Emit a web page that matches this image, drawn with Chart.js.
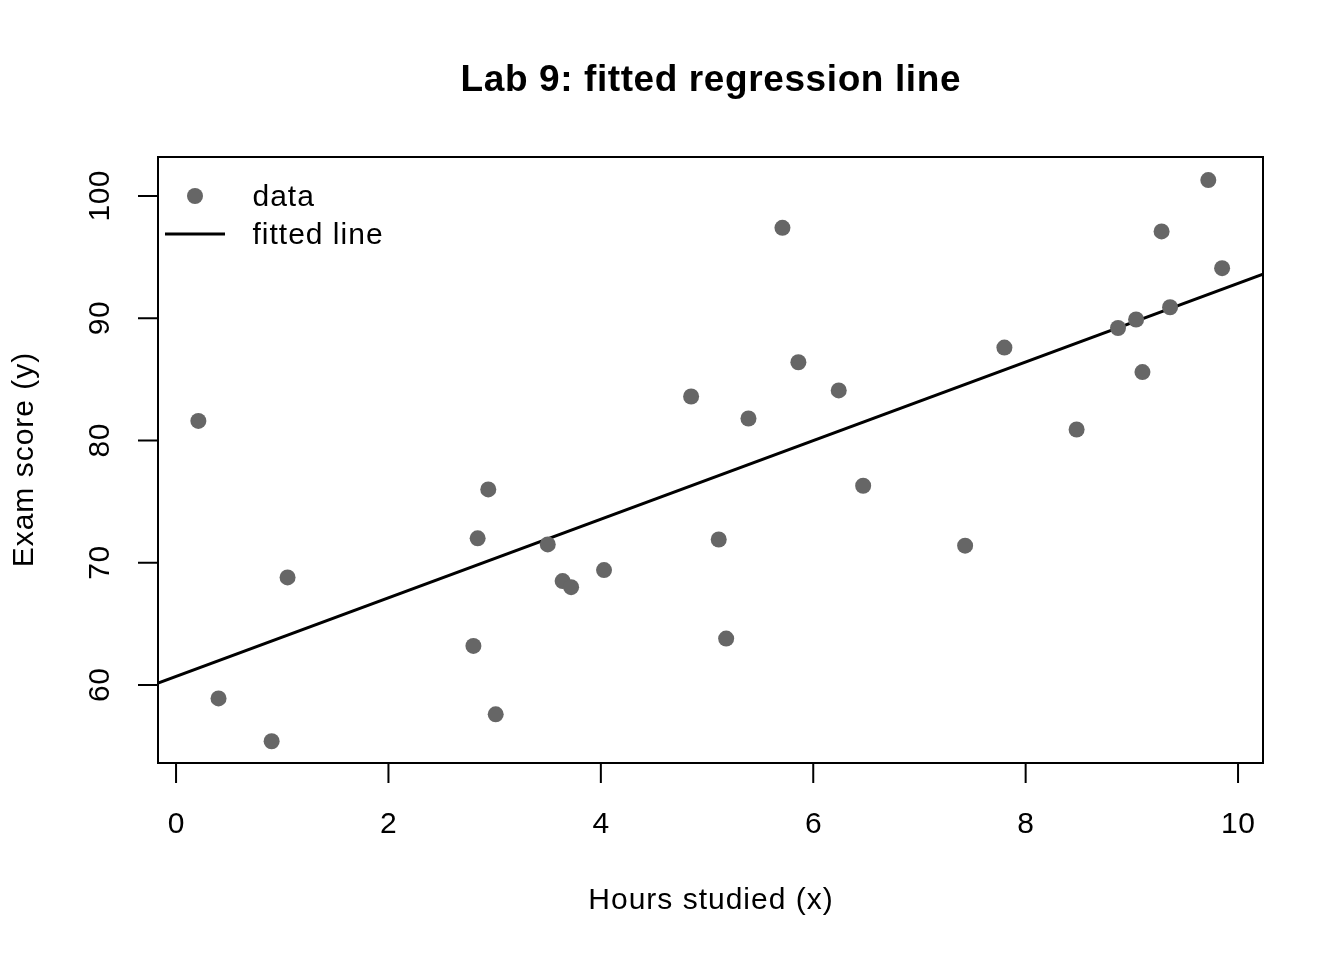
<!DOCTYPE html>
<html>
<head>
<meta charset="utf-8">
<script src="https://cdn.jsdelivr.net/npm/chart.js@4"></script>
<style>
  html, body { margin: 0; padding: 0; background: #fff; }
  #wrap { width: 1344px; height: 960px; }
</style>
</head>
<body>
<div id="wrap"><canvas id="fit"></canvas></div>
<script>
// hours studied and exam scores
var hours = [0.21, 0.40, 0.90, 1.05, 2.80, 2.84, 2.94, 3.01, 3.50, 3.64, 3.72, 4.03,
             4.85, 5.11, 5.18, 5.39, 5.71, 5.86, 6.24, 6.47, 7.43, 7.80, 8.48, 8.87,
             9.04, 9.10, 9.28, 9.36, 9.72, 9.85];
var scores = [81.6, 58.9, 55.4, 68.8, 63.2, 72.0, 76.0, 57.6, 71.5, 68.5, 68.0, 69.4,
              83.6, 71.9, 63.8, 81.8, 97.4, 86.4, 84.1, 76.3, 71.4, 87.6, 80.9, 89.2,
              89.9, 85.6, 97.1, 90.9, 101.3, 94.1];

var intercept = 60.70;
var slope = 3.216;

var xTicks = [0, 2, 4, 6, 8, 10];
var yTicks = [60, 70, 80, 90, 100];

var xMin = -0.17, xMax = 10.235;
var yMin = 53.62, yMax = 103.19;

var pts = hours.map(function(h, i) { return { x: h, y: scores[i] }; });
var fitPts = [
    { x: xMin, y: intercept + slope * xMin },
    { x: xMax, y: intercept + slope * xMax }
];

var font = '"Liberation Sans", Arial, sans-serif';

function label(ctx, txt, x, y, spacing) {
    ctx.letterSpacing = spacing + 'px';
    ctx.fillText(txt, x + spacing / 2, y);
    ctx.letterSpacing = '0px';
}

// R-style box, axes, labels and legend
var rStyle = {
    id: 'rStyle',
    afterDraw: function(chart) {
        var ctx = chart.ctx;
        var a = chart.chartArea;
        var xs = chart.scales.x, ys = chart.scales.y;
        ctx.save();
        ctx.strokeStyle = '#000';
        ctx.lineWidth = 2;
        ctx.strokeRect(a.left, a.top, a.right - a.left, a.bottom - a.top);

        // x axis
        var x0 = xs.getPixelForValue(xTicks[0]);
        var x1 = xs.getPixelForValue(xTicks[xTicks.length - 1]);
        ctx.beginPath();
        ctx.moveTo(x0, a.bottom); ctx.lineTo(x1, a.bottom);
        xTicks.forEach(function(t) {
            var px = xs.getPixelForValue(t);
            ctx.moveTo(px, a.bottom); ctx.lineTo(px, a.bottom + 20);
        });
        // y axis
        var y0 = ys.getPixelForValue(yTicks[0]);
        var y1 = ys.getPixelForValue(yTicks[yTicks.length - 1]);
        ctx.moveTo(a.left, y0); ctx.lineTo(a.left, y1);
        yTicks.forEach(function(t) {
            var py = ys.getPixelForValue(t);
            ctx.moveTo(a.left, py); ctx.lineTo(a.left - 20, py);
        });
        ctx.stroke();

        ctx.fillStyle = '#000';
        ctx.font = '30px ' + font;
        ctx.textAlign = 'center';
        ctx.textBaseline = 'middle';
        xTicks.forEach(function(t) {
            label(ctx, String(t), xs.getPixelForValue(t), 825, 0.5);
        });
        yTicks.forEach(function(t) {
            ctx.save();
            ctx.translate(101, ys.getPixelForValue(t));
            ctx.rotate(-Math.PI / 2);
            label(ctx, String(t), 0, 0, 0.5);
            ctx.restore();
        });

        label(ctx, 'Hours studied (x)', (a.left + a.right) / 2, 901, 1);
        ctx.save();
        ctx.translate(25, (a.top + a.bottom) / 2);
        ctx.rotate(-Math.PI / 2);
        label(ctx, 'Exam score (y)', 0, 0, 1);
        ctx.restore();

        ctx.font = 'bold 37px ' + font;
        label(ctx, 'Lab 9: fitted regression line', (a.left + a.right) / 2, 81, 0.6);

        // legend
        ctx.fillStyle = '#666666';
        ctx.beginPath();
        ctx.arc(195, 196, 8, 0, Math.PI * 2);
        ctx.fill();
        ctx.strokeStyle = '#000';
        ctx.lineWidth = 3;
        ctx.beginPath();
        ctx.moveTo(165, 234); ctx.lineTo(225, 234);
        ctx.stroke();
        ctx.fillStyle = '#000';
        ctx.font = '30px ' + font;
        ctx.textAlign = 'left';
        label(ctx, 'data', 252, 198, 1);
        label(ctx, 'fitted line', 252, 236, 1);
        ctx.restore();
    }
};

var ctx = document.getElementById('fit').getContext('2d');
new Chart(ctx, {
    type: 'scatter',
    data: {
        datasets: [{
            label: 'data',
            data: pts,
            backgroundColor: '#666666',
            borderColor: '#666666',
            pointRadius: 8,
            borderWidth: 0
        },
        {
            label: 'fitted line',
            type: 'line',
            data: fitPts,
            borderColor: '#000',
            borderWidth: 3,
            pointRadius: 0,
            fill: false
        }]
    },
    options: {
        responsive: true,
        maintainAspectRatio: false,
        animation: false,
        layout: { padding: { left: 158, right: 81, top: 157, bottom: 197 } },
        plugins: { legend: { display: false }, tooltip: { enabled: false } },
        scales: {
            x: { type: 'linear', min: xMin, max: xMax, display: false },
            y: { type: 'linear', min: yMin, max: yMax, display: false }
        }
    },
    plugins: [rStyle]
});
</script>
</body>
</html>
